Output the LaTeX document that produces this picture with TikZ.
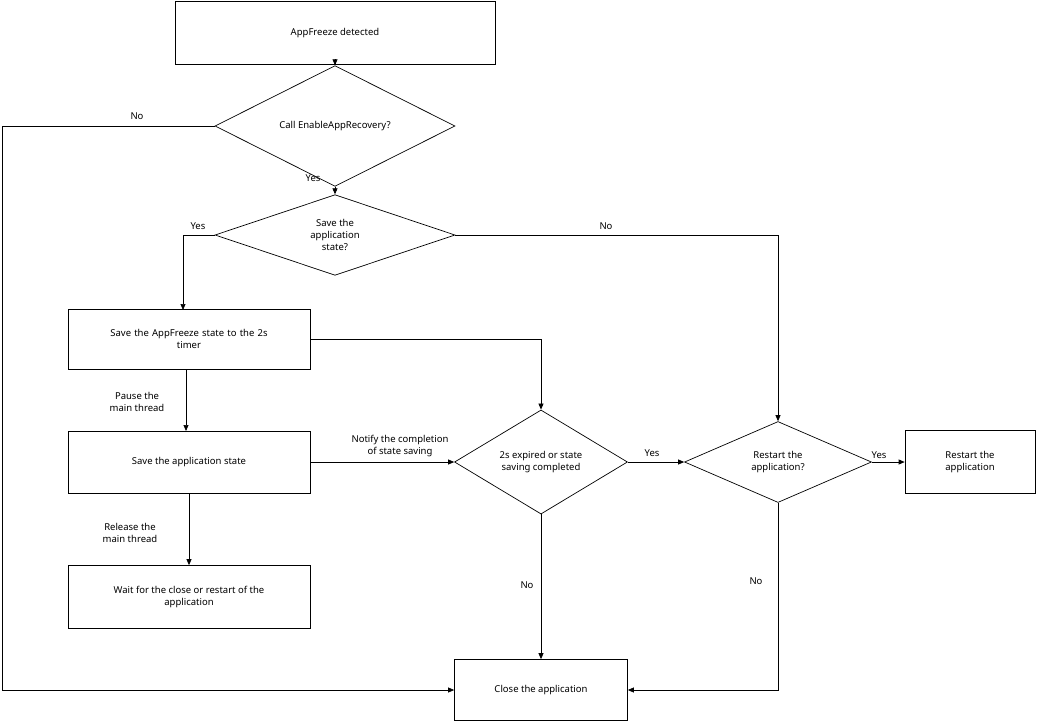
\documentclass[tikz,border=0pt]{standalone}
\usepackage{fontspec}
\setmainfont{Noto Sans}
\usetikzlibrary{shapes.geometric,arrows.meta}
\begin{document}
\begin{tikzpicture}[x=1pt,y=-1pt,font=\fontsize{9.5}{12}\selectfont,
 box/.style={draw,line width=0.7pt,align=center,inner sep=0pt},
 dia/.style={draw,line width=0.7pt,diamond,align=center,inner sep=0pt},
 ar/.style={draw,line width=0.7pt,-{Triangle[length=6pt,width=5pt]}},
 lab/.style={align=center,inner sep=1pt}]
\useasboundingbox (0,0) rectangle (1049,724);
\node[box,minimum width=320pt,minimum height=63pt] (A) at (335,33) {AppFreeze detected};
\node[dia,minimum width=240pt,minimum height=79pt] (D1) at (335,126) {Call EnableAppRecovery?};
\node[dia,minimum width=240pt,minimum height=80pt] (D2) at (335,235) {Save the\\application\\state?};
\node[box,minimum width=242pt,minimum height=60pt,text width=236pt] (B1) at (189,339) {Save the AppFreeze state to the 2s\\timer};
\node[box,minimum width=242pt,minimum height=62pt] (B2) at (189,462) {Save the application state};
\node[box,minimum width=242pt,minimum height=63pt] (B3) at (189,597) {Wait for the close or restart of the\\application};
\node[dia,minimum width=173pt,minimum height=81pt] (D3) at (541,462) {2s expired or state\\saving completed};
\node[dia,minimum width=187pt,minimum height=81pt] (D4) at (778,462) {Restart the\\application?};
\node[box,minimum width=130pt,minimum height=63pt] (R) at (970,462) {Restart the\\application};
\node[box,minimum width=173pt,minimum height=61pt] (C) at (541,690) {Close the application};
\coordinate (c1) at (2,126);
\coordinate (c2) at (2,690);
\coordinate (c3) at (183,235);
\coordinate (c4) at (778,235);
\coordinate (c5) at (541,339);
\coordinate (c6) at (778,690);
\draw[ar] (A) -- (D1);
\draw[ar] (D1.west) -- (c1) -- (c2) -- (C.west);
\node[lab] (l1) at (137,116) {No};
\draw[ar] (D1.south) -- (D2.north);
\node[lab] (l2) at (313,178) {Yes};
\draw[ar] (D2.west) -- (c3) -- (183,310);
\node[lab] (l3) at (198,226) {Yes};
\draw[ar] (D2.east) -- (c4) -- (D4.north);
\node[lab] (l4) at (606,226) {No};
\draw[ar] (186,370) -- (186,431);
\node[lab] (l5) at (137,402) {Pause the\\main thread};
\draw[ar] (B1.east) -- (c5) -- (D3.north);
\draw[ar] (B2.east) -- (D3.west);
\node[lab] (l6) at (400,446) {Notify the completion\\of state saving};
\draw[ar] (B2.south) -- (B3.north);
\node[lab] (l7) at (130,533) {Release the\\main thread};
\draw[ar] (D3.east) -- (D4.west);
\node[lab] (l8) at (652,453) {Yes};
\draw[ar] (D4.east) -- (R.west);
\node[lab] (l9) at (879,455) {Yes};
\draw[ar] (D3.south) -- (C.north);
\node[lab] (l10) at (527,585) {No};
\draw[ar] (D4.south) -- (c6) -- (C.east);
\node[lab] (l11) at (756,581) {No};
\end{tikzpicture}
\end{document}
